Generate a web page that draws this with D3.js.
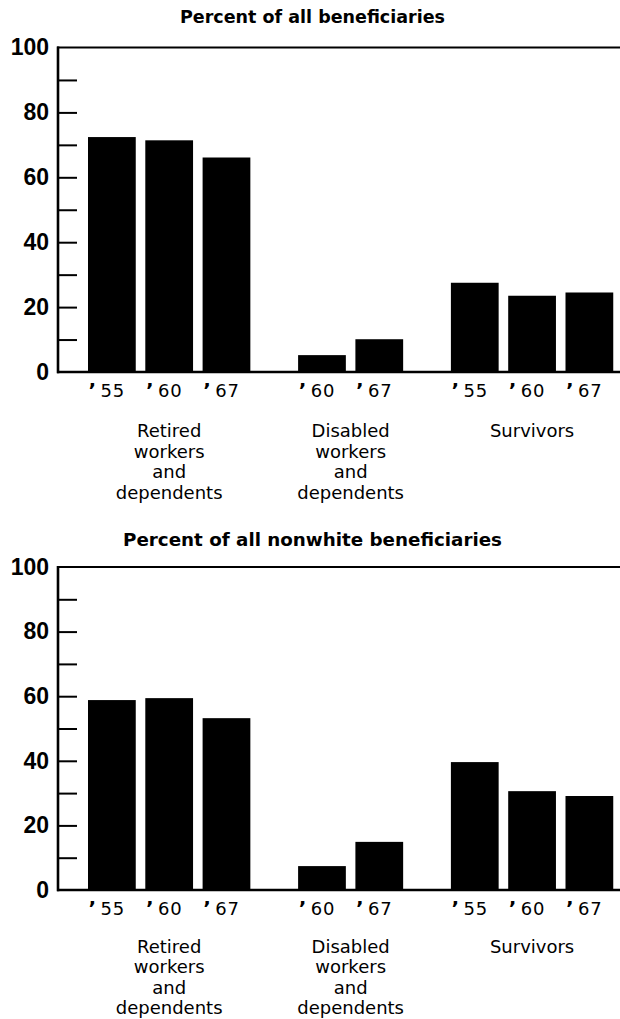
<!DOCTYPE html>
<html>
<head>
<meta charset="utf-8">
<script src="https://cdn.jsdelivr.net/npm/d3@7"></script>
<style>
  body { margin: 0; background: #fff; }
  svg { display: block; }
</style>
</head>
<body>
<svg id="chart" width="620" height="1019"></svg>
<script>
// ---------- DATA ----------
const categories = ["Retired workers and dependents", "Disabled workers and dependents", "Survivors"];
const categoryLines = [["Retired", "workers", "and", "dependents"], ["Disabled", "workers", "and", "dependents"], ["Survivors"]];
const years = [["55", "60", "67"], ["60", "67"], ["55", "60", "67"]];
const allBeneficiaries = [[72.4, 71.4, 66.1], [5.2, 10.1], [27.5, 23.5, 24.5]];
const nonwhiteBeneficiaries = [[58.8, 59.4, 53.2], [7.4, 14.9], [39.6, 30.6, 29.1]];
const panelTitles = ["Percent of all beneficiaries", "Percent of all nonwhite beneficiaries"];
const majorTicks = [0, 20, 40, 60, 80, 100];
const minorTicks = [10, 20, 30, 40, 50, 60, 70, 80, 90];

// ---------- LAYOUT ----------
const svg = d3.select("#chart");
const axisX = 58;
const unitsPerBar = 3, barUnits = 2.5, groupGapUnits = 2;

const groupStart = [];
let u = 0;
years.forEach((ys, g) => { groupStart.push(u); u += ys.length * unitsPerBar + (g < years.length - 1 ? groupGapUnits : 0); });
const totalUnits = u;
const x = d3.scaleLinear().domain([0, totalUnits]).range([88, 88 + totalUnits * 19.1]);
const bw = x(barUnits) - x(0);

const panels = [
  { title: panelTitles[0], values: allBeneficiaries, titleX: 180, titleY: 23, titleLen: 265, yTop: 47.5, yBottom: 372, catOffset: 65 },
  { title: panelTitles[1], values: nonwhiteBeneficiaries, titleX: 123, titleY: 546, titleLen: 379, yTop: 567, yBottom: 890, catOffset: 62.5 }
];

panels.forEach(p => {
  const y = d3.scaleLinear().domain([0, 100]).range([p.yBottom, p.yTop]);
  const g = svg.append("g");

  // title
  g.append("text")
    .attr("x", p.titleX).attr("y", p.titleY)
    .attr("textLength", p.titleLen).attr("lengthAdjust", "spacingAndGlyphs")
    .style("font-family", "'DejaVu Sans', sans-serif")
    .style("font-weight", "bold").style("font-size", "17px")
    .text(p.title);

  // bars
  p.values.forEach((vals, gi) => {
    vals.forEach((v, i) => {
      const x0 = x(groupStart[gi] + i * unitsPerBar);
      g.append("rect")
        .attr("x", x0).attr("y", y(v))
        .attr("width", bw).attr("height", y(0) - y(v))
        .attr("fill", "#000");
      const t = g.append("text")
        .attr("x", x0 + bw / 2 - 5).attr("y", p.yBottom + 24.5)
        .attr("text-anchor", "middle")
        .style("font-family", "'DejaVu Sans', sans-serif")
        .style("font-size", "18px");
      t.append("tspan").style("font-weight", "bold").style("font-size", "20px").text("\u2019");
      t.append("tspan").style("letter-spacing", "0.8px").text("\u2009" + years[gi][i]);
    });
    // category label
    const cx = (x(groupStart[gi]) + x(groupStart[gi] + (vals.length - 1) * unitsPerBar + barUnits)) / 2;
    const ct = g.append("text")
      .attr("text-anchor", "middle")
      .style("font-family", "'DejaVu Sans', sans-serif")
      .style("font-size", "18px");
    categoryLines[gi].forEach((line, li) => {
      ct.append("tspan").attr("x", cx).attr("y", p.yBottom + p.catOffset + li * 20.5).text(line);
    });
  });

  // inward ticks
  const tickAxis = g.append("g").attr("transform", `translate(${axisX},0)`)
    .call(d3.axisRight(y).tickValues(minorTicks).tickSize(19).tickFormat(""));
  tickAxis.select(".domain").remove();
  tickAxis.selectAll(".tick line").attr("stroke", "#000").attr("stroke-width", 2);

  // labels
  const labAxis = g.append("g").attr("transform", `translate(${axisX},0)`)
    .call(d3.axisLeft(y).tickValues(majorTicks).tickSize(0).tickPadding(9).tickFormat(d3.format("d")));
  labAxis.select(".domain").remove();
  labAxis.selectAll("text")
    .attr("fill", "#000")
    .style("font-family", "'Liberation Sans', Arial, sans-serif")
    .style("font-weight", "bold").style("font-size", "23px");

  // frame
  g.append("line").attr("x1", axisX).attr("x2", axisX).attr("y1", y(100) - 1).attr("y2", y(0) + 1.3)
    .attr("stroke", "#000").attr("stroke-width", 2.6);
  g.append("line").attr("x1", axisX - 1).attr("x2", 620).attr("y1", y(100)).attr("y2", y(100))
    .attr("stroke", "#000").attr("stroke-width", 2);
  g.append("line").attr("x1", axisX - 1).attr("x2", 620).attr("y1", y(0)).attr("y2", y(0))
    .attr("stroke", "#000").attr("stroke-width", 2.6);
});
</script>
</body>
</html>
